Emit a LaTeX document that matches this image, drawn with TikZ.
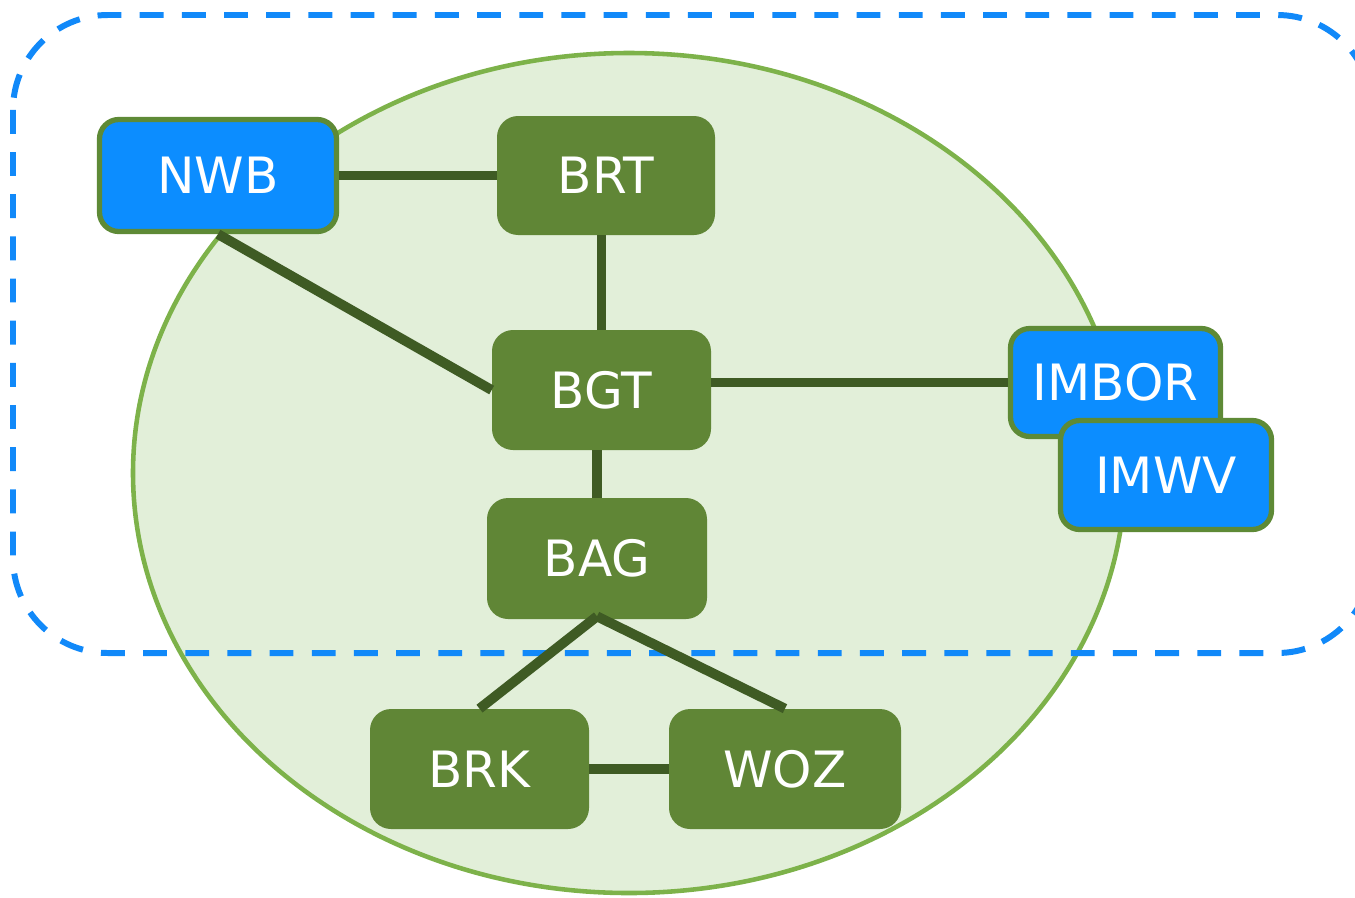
\documentclass[tikz,border=0pt]{standalone}
\usepackage{fontspec}
\setmainfont{DejaVu Sans}
\usetikzlibrary{calc}
\definecolor{boxgreen}{HTML}{608636}
\definecolor{boxblue}{HTML}{0C8DFF}
\definecolor{boxborder}{HTML}{5E8A36}
\definecolor{edgegreen}{HTML}{3F5B24}
\definecolor{ellfill}{HTML}{E2EFD9}
\definecolor{ellline}{HTML}{7DB24A}
\definecolor{dashblue}{HTML}{1189F9}
\tikzset{
  greenbox/.style={rectangle, rounded corners=12pt, fill=boxgreen, text=white, font=\fontsize{28.5}{30}\selectfont, inner sep=0pt},
  bluebox/.style={rectangle, rounded corners=11pt, fill=boxblue, draw=boxborder, line width=3pt, text=white, font=\fontsize{28.5}{30}\selectfont, inner sep=0pt},
  link/.style={draw=edgegreen, line width=5.6pt},
}
\begin{document}
\begin{tikzpicture}[x=0.02cm, y=-0.02cm]
\useasboundingbox (0,0) rectangle (1355,897);
% ellipse
\draw[fill=ellfill, draw=ellline, line width=2.6pt] (629,473) ellipse [x radius=496, y radius=420];
% dashed rounded area
\draw[dashblue, line width=3.4pt, dash pattern=on 13.6pt off 10.4pt, rounded corners=54pt] (13,15) rectangle (1372,653);
% nodes
\node[bluebox, minimum width=237*0.02cm, minimum height=112*0.02cm] (NWB) at (218,175.5) {NWB};
\node[greenbox, minimum width=218*0.02cm, minimum height=119*0.02cm] (BRT) at (606,175.5) {BRT};
\node[greenbox, minimum width=219*0.02cm, minimum height=120*0.02cm] (BGT) at (601.5,390) {BGT};
\node[greenbox, minimum width=220*0.02cm, minimum height=121*0.02cm] (BAG) at (597,558.5) {BAG};
\node[greenbox, minimum width=219*0.02cm, minimum height=120*0.02cm] (BRK) at (479.5,769) {BRK};
\node[greenbox, minimum width=232*0.02cm, minimum height=120*0.02cm] (WOZ) at (785,769) {WOZ};
\node[bluebox, minimum width=210*0.02cm, minimum height=108*0.02cm] (IMBOR) at (1115.5,382.5) {IMBOR};
\node[bluebox, minimum width=211*0.02cm, minimum height=109*0.02cm] (IMWV) at (1166,475) {IMWV};
% links
\draw[link] (NWB.east) -- (BRT.west);
\draw[link] (BGT.north) -- (BGT.north |- BRT.south);
\draw[link] (NWB.south) -- (BGT.west);
\draw[link] (BGT.east |- IMBOR.west) -- (IMBOR.west);
\draw[link] (BAG.north) -- (BAG.north |- BGT.south);
\draw[link] ($(BAG.south)+(0,-3)$) -- (BRK.north);
\draw[link] ($(BAG.south)+(0,-3)$) -- (WOZ.north);
\draw[link] (BRK.east) -- (WOZ.west);
\end{tikzpicture}
\end{document}
